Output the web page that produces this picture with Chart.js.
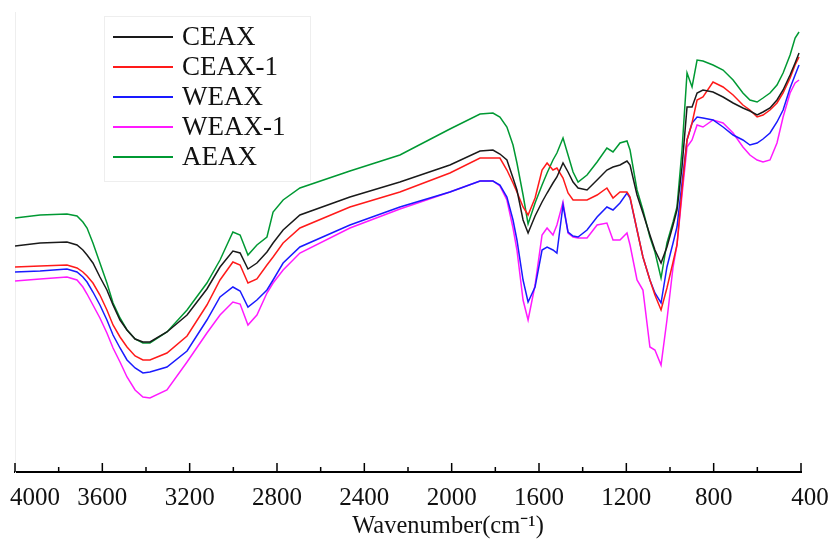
<!DOCTYPE html>
<html>
<head>
<meta charset="utf-8">
<title>FT-IR spectra</title>
<script src="https://cdn.jsdelivr.net/npm/chart.js@4.4.1/dist/chart.umd.min.js"></script>
<style>
  html, body { margin: 0; padding: 0; background: #fff; }
  #wrap { width: 833px; height: 541px; }
</style>
</head>
<body>
<div id="wrap"><canvas id="ftir"></canvas></div>
<script>
// wavenumber (cm-1) of every sampled point, high to low
const wavenumbers = [
  4000, 3885, 3762, 3716, 3689, 3670, 3643, 3611, 3579, 3551,
  3519, 3487, 3450, 3414, 3382, 3304, 3212, 3121, 3061, 3002,
  2969, 2933, 2892, 2846, 2818, 2772, 2695, 2466, 2237, 2008,
  1870, 1811, 1779, 1747, 1719, 1701, 1673, 1650, 1618, 1586,
  1563, 1536, 1518, 1490, 1467, 1444, 1421, 1380, 1334, 1289,
  1261, 1229, 1197, 1183, 1151, 1124, 1092, 1069, 1041, 1014,
  986, 968, 945, 922, 899, 876, 849, 803, 757, 711,
  666, 634, 601, 574, 542, 510, 482, 450, 427, 409
];

// transmittance, arbitrary units (curves are offset)
const ceax = [
  226, 229, 230, 227, 222, 217, 209, 195, 182, 167,
  152, 142, 133, 130, 130, 140, 157, 183, 205, 221,
  219, 203, 209, 220, 229, 242, 257, 275, 290, 307,
  321, 322, 318, 312, 294, 282, 252, 239, 256, 270,
  279, 289, 295, 309, 300, 290, 284, 282, 292, 302,
  305, 307, 311, 307, 277, 259, 237, 222, 209, 225,
  247, 262, 305, 365, 365, 379, 382, 380, 375, 369,
  364, 361, 357, 360, 364, 372, 382, 397, 409, 419
];
const ceax1 = [
  205, 206, 207, 204, 200, 196, 189, 177, 162, 147,
  135, 125, 116, 112, 112, 119, 136, 167, 192, 210,
  207, 189, 193, 207, 215, 229, 244, 265, 280, 299,
  314, 314, 314, 302, 289, 280, 265, 257, 274, 302,
  309, 302, 304, 294, 279, 272, 272, 272, 277, 284,
  274, 280, 280, 275, 242, 215, 192, 177, 162, 184,
  210, 227, 282, 332, 349, 372, 375, 390, 385, 377,
  367, 362, 355, 357, 362, 369, 379, 394, 407, 415
];
const weax = [
  200, 201, 203, 200, 195, 190, 180, 167, 152, 137,
  124, 112, 104, 99, 100, 105, 121, 152, 175, 185,
  181, 165, 172, 182, 192, 209, 225, 247, 265, 280,
  291, 291, 287, 275, 252, 232, 192, 170, 185, 222,
  225, 222, 219, 267, 240, 236, 235, 242, 255, 265,
  262, 269, 279, 274, 242, 215, 192, 179, 169, 205,
  229, 245, 289, 332, 349, 355, 354, 352, 345, 337,
  332, 327, 329, 333, 339, 350, 362, 384, 397, 407
];
const weax1 = [
  191, 193, 195, 192, 185, 178, 167, 154, 139, 124,
  110, 95, 82, 75, 74, 82, 110, 139, 157, 170,
  168, 147, 157, 179, 189, 202, 219, 244, 263, 280,
  291, 291, 286, 272, 244, 222, 172, 152, 187, 237,
  244, 237, 247, 270, 239, 235, 234, 234, 247, 249,
  232, 232, 239, 227, 192, 182, 125, 122, 107, 152,
  205, 227, 277, 325, 332, 347, 345, 352, 349, 339,
  325, 317, 312, 310, 312, 329, 355, 379, 389, 392
];
const aeax = [
  254, 257, 258, 256, 250, 244, 229, 209, 189, 169,
  154, 142, 133, 129, 129, 140, 162, 189, 212, 240,
  237, 217, 227, 235, 260, 272, 284, 301, 317, 343,
  358, 359, 355, 345, 327, 309, 277, 248, 269, 287,
  299, 312, 319, 334, 317, 300, 290, 297, 310, 324,
  320, 329, 331, 322, 282, 262, 235, 220, 194, 229,
  250, 265, 322, 399, 385, 412, 411, 407, 402, 392,
  379, 372, 370, 374, 379, 387, 399, 417, 434, 440
];

const seriesNames = ['CEAX', 'CEAX-1', 'WEAX', 'WEAX-1', 'AEAX'];
const seriesColors = ['#1a1a1a', '#ff1a1a', '#1a1aff', '#ff1aff', '#009933'];
const seriesValues = [ceax, ceax1, weax, weax1, aeax];

const xTicks = [4000, 3800, 3600, 3400, 3200, 3000, 2800, 2600, 2400, 2200,
  2000, 1800, 1600, 1400, 1200, 1000, 800, 600, 400];
const xTickLabels = ['4000', '3600', '3200', '2800', '2400', '2000', '1600', '1200', '800', '400'];
const xTitle = 'Wavenumber(cm\u207B\u00B9)';

const serif = '"Liberation Serif", "Times New Roman", serif';

// ticks pointing up, tick labels, axis title and the boxed legend
const axisDecor = {
  id: 'axisDecor',
  afterDraw(chart) {
    const ctx = chart.ctx;
    const xs = chart.scales.x;
    const base = chart.chartArea.bottom;
    ctx.save();

    ctx.strokeStyle = '#000';
    ctx.lineWidth = 1.5;
    xTicks.forEach(v => {
      const px = xs.getPixelForValue(v);
      const major = v % 400 === 0;
      ctx.beginPath();
      ctx.moveTo(px, base);
      ctx.lineTo(px, base - (major ? 9 : 5));
      ctx.stroke();
    });

    ctx.fillStyle = '#111';
    ctx.font = '25px ' + serif;
    ctx.textAlign = 'center';
    ctx.textBaseline = 'middle';
    xTickLabels.forEach((lab, i) => {
      let px = xs.getPixelForValue(Number(lab));
      if (i === 0) px += 20;
      if (i === xTickLabels.length - 1) px += 9;
      ctx.fillText(lab, px, 498);
    });

    ctx.font = '24.5px ' + serif;
    ctx.fillText(xTitle, 448, 527);

    // legend
    ctx.strokeStyle = '#eeeeee';
    ctx.lineWidth = 1;
    ctx.strokeRect(104.5, 16.5, 206, 165);
    ctx.font = '27px ' + serif;
    ctx.textAlign = 'left';
    chart.data.datasets.forEach((ds, i) => {
      const y = 37 + i * 30;
      ctx.strokeStyle = ds.borderColor;
      ctx.lineWidth = 2;
      ctx.beginPath();
      ctx.moveTo(113, y);
      ctx.lineTo(173, y);
      ctx.stroke();
      ctx.fillStyle = '#111';
      ctx.fillText(ds.label, 182, y + 1);
    });

    ctx.restore();
  }
};

new Chart(document.getElementById('ftir'), {
  type: 'line',
  data: {
    datasets: seriesNames.map((name, i) => ({
      label: name,
      data: wavenumbers.map((w, j) => ({ x: w, y: seriesValues[i][j] })),
      borderColor: seriesColors[i],
      borderWidth: 1.5,
      pointRadius: 0,
      tension: 0,
      fill: false
    }))
  },
  options: {
    responsive: true,
    maintainAspectRatio: false,
    animation: false,
    layout: { padding: { left: 0, right: 32, top: 12, bottom: 0 } },
    plugins: {
      legend: { display: false },
      tooltip: { enabled: false }
    },
    scales: {
      x: {
        type: 'linear',
        reverse: true,
        min: 400,
        max: 4000,
        grid: { display: false },
        border: { display: true, color: '#000', width: 2 },
        ticks: { display: false, stepSize: 200 },
        title: { display: false },
        afterFit(scale) {
          scale.height = 69;
          scale.paddingLeft = 0;
          scale.paddingRight = 0;
        }
      },
      y: {
        min: 0,
        max: 460,
        grid: { display: false },
        border: { display: true, color: '#eeeeee', width: 1 },
        ticks: { display: false },
        afterFit(scale) {
          scale.width = 15;
        }
      }
    }
  },
  plugins: [axisDecor]
});
</script>
</body>
</html>
